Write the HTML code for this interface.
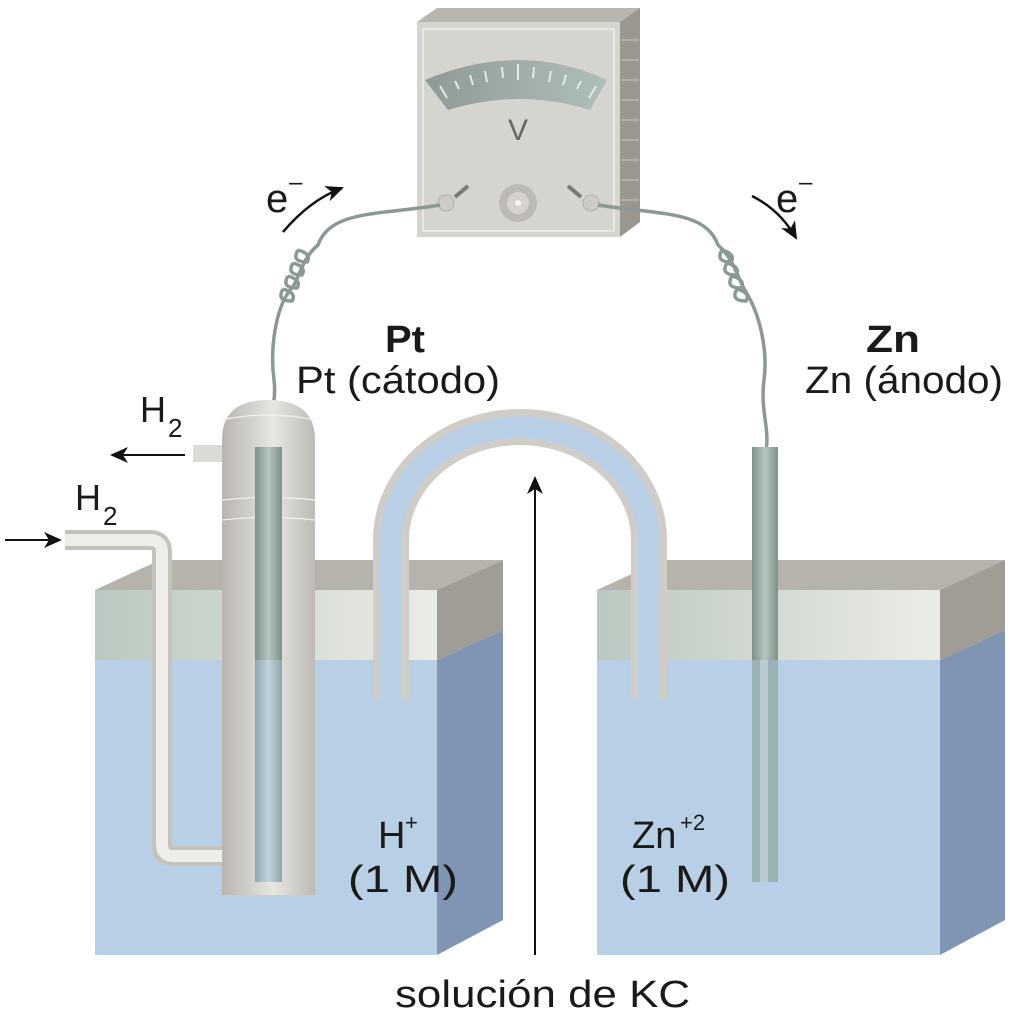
<!DOCTYPE html>
<html><head><meta charset="utf-8"><style>
html,body{margin:0;padding:0;background:#fff;}
svg{display:block;}
text{font-family:"Liberation Sans","DejaVu Sans",sans-serif;fill:#1a1a1a;}
</style></head><body>
<svg width="1024" height="1027" viewBox="0 0 1024 1027" xmlns="http://www.w3.org/2000/svg">
<defs>
<linearGradient id="band" x1="0" x2="1"><stop offset="0" stop-color="#b9c8c0"/><stop offset="1" stop-color="#ecece6"/></linearGradient>
<linearGradient id="holder" x1="0" x2="1"><stop offset="0" stop-color="#b8b5b0"/><stop offset="0.55" stop-color="#e8e6e2"/><stop offset="1" stop-color="#bdbab5"/></linearGradient>
<linearGradient id="rod" x1="0" x2="1"><stop offset="0" stop-color="#7e9188"/><stop offset="0.5" stop-color="#b4c6bd"/><stop offset="1" stop-color="#7e9188"/></linearGradient>
<linearGradient id="rodw" x1="0" x2="1"><stop offset="0" stop-color="#8ea5ad"/><stop offset="0.5" stop-color="#c2d4dc"/><stop offset="1" stop-color="#8ea5ad"/></linearGradient>
<linearGradient id="scale" x1="0" x2="1"><stop offset="0" stop-color="#8f9a94"/><stop offset="1" stop-color="#aec0b8"/></linearGradient>
<marker id="ah2" markerWidth="18" markerHeight="16" refX="16" refY="8" orient="auto" markerUnits="userSpaceOnUse"><path d="M0,0 L18,8 L0,16 L5,8z" fill="#111"/></marker>
</defs>

<!-- Voltmeter -->
<polygon points="417,22 437,8 640,8 620,22" fill="#b9b6b0"/>
<polygon points="620,22 640,8 640,222 620,237" fill="#9a978f"/>
<g stroke="#c8c6c0" stroke-width="1">
<line x1="621" y1="40" x2="639" y2="40"/><line x1="621" y1="60" x2="639" y2="60"/><line x1="621" y1="80" x2="639" y2="80"/><line x1="621" y1="100" x2="639" y2="100"/><line x1="621" y1="120" x2="639" y2="120"/><line x1="621" y1="140" x2="639" y2="140"/><line x1="621" y1="160" x2="639" y2="160"/><line x1="621" y1="180" x2="639" y2="180"/><line x1="621" y1="200" x2="639" y2="200"/>
</g>
<rect x="417" y="22" width="203" height="215" fill="#d6d4cf"/>
<rect x="423" y="29" width="191" height="202" fill="none" stroke="#f0efec" stroke-width="1.5"/>
<path d="M425,80 Q520,40 607,80 L590,110 Q520,88 448,110 Z" fill="url(#scale)"/>
<g stroke="#e4ebe7" stroke-width="2">
<line x1="440" y1="86" x2="447" y2="98"/><line x1="455" y1="81" x2="459" y2="89"/><line x1="470" y1="75" x2="473" y2="85"/><line x1="485" y1="71" x2="487" y2="82"/><line x1="502" y1="67" x2="503" y2="78"/><line x1="518" y1="64" x2="518" y2="80"/><line x1="534" y1="67" x2="533" y2="78"/><line x1="551" y1="71" x2="549" y2="82"/><line x1="566" y1="75" x2="563" y2="85"/><line x1="581" y1="81" x2="577" y2="89"/><line x1="596" y1="86" x2="589" y2="98"/>
</g>
<text x="508" y="140" font-size="30" style="fill:#666">V</text>
<circle cx="518" cy="203" r="19" fill="#bdbab5"/><circle cx="518" cy="203" r="11" fill="#d6d3ce"/><circle cx="518" cy="203" r="3" fill="#f4f4f2"/>
<line x1="455" y1="197" x2="468" y2="186" stroke="#7a7a76" stroke-width="4"/>
<line x1="581" y1="197" x2="568" y2="186" stroke="#7a7a76" stroke-width="4"/>
<circle cx="446" cy="203" r="8" fill="#cfccc7" stroke="#b0ada8"/>
<circle cx="591" cy="203" r="8" fill="#cfccc7" stroke="#b0ada8"/>

<!-- wires -->
<g fill="none" stroke="#8a9a92" stroke-width="3.5">
<path d="M440,205 C380,215 330,210 318,245 C300,260 300,280 290,290 C275,310 270,350 274,380 C278,410 262,430 265,450"/>
<path d="M298,250 q14,4 9,12 q-16,0 -9,-12 M293,263 q14,4 9,12 q-16,0 -9,-12 M288,276 q14,4 9,12 q-16,0 -9,-12 M283,289 q14,4 9,12 q-16,0 -9,-12"/>
<path d="M598,205 C660,215 705,210 718,245 C735,260 738,280 746,292 C760,315 768,350 764,380 C760,410 770,430 766,450"/>
<path d="M722,250 q14,4 9,12 q-16,0 -9,-12 M727,263 q14,4 9,12 q-16,0 -9,-12 M732,276 q14,4 9,12 q-16,0 -9,-12 M737,289 q14,4 9,12 q-16,0 -9,-12"/>
</g>
<path d="M283,232 Q310,200 342,188" fill="none" stroke="#111" stroke-width="2.5" marker-end="url(#ah2)"/>
<path d="M752,196 Q780,210 796,238" fill="none" stroke="#111" stroke-width="2.5" marker-end="url(#ah2)"/>
<text x="266" y="212" font-size="40">e</text><text x="289" y="190" font-size="24">–</text>
<text x="776" y="212" font-size="40">e</text><text x="799" y="190" font-size="24">–</text>

<!-- Labels -->
<text x="385" y="352" font-size="38" font-weight="bold" textLength="40" lengthAdjust="spacingAndGlyphs">Pt</text>
<text x="296" y="393" font-size="38" textLength="204" lengthAdjust="spacingAndGlyphs">Pt (cátodo)</text>
<text x="866" y="352" font-size="38" font-weight="bold" textLength="54" lengthAdjust="spacingAndGlyphs">Zn</text>
<text x="805" y="393" font-size="38" textLength="198" lengthAdjust="spacingAndGlyphs">Zn (ánodo)</text>

<!-- Left tank -->
<polygon points="95,590 160,560 503,560 437,590" fill="#b6b3ab"/>
<polygon points="437,590 503,560 503,630 437,660" fill="#a09d96"/>
<polygon points="437,660 503,630 503,920 437,955" fill="#7f95b3"/>
<rect x="95" y="590" width="342" height="70" fill="url(#band)"/>
<rect x="95" y="660" width="342" height="295" fill="#b9cfe5"/>

<!-- Right tank -->
<polygon points="597,590 662,560 1005,560 940,590" fill="#b6b3ab"/>
<polygon points="940,590 1005,560 1005,630 940,660" fill="#a09d96"/>
<polygon points="940,660 1005,630 1005,920 940,955" fill="#7f95b3"/>
<rect x="597" y="590" width="343" height="70" fill="url(#band)"/>
<rect x="597" y="660" width="343" height="295" fill="#b9cfe5"/>

<!-- H2 inlet tube -->
<path d="M65,540 L150,540 Q162,540 162,552 L162,845 Q162,856 174,856 L222,856" fill="none" stroke="#c4c2bd" stroke-width="20"/>
<path d="M65,540 L150,540 Q162,540 162,552 L162,845 Q162,856 174,856 L222,856" fill="none" stroke="#eeede9" stroke-width="12"/>
<line x1="5" y1="540" x2="60" y2="540" stroke="#111" stroke-width="2" marker-end="url(#ah2)"/>
<text x="75" y="510" font-size="36">H</text><text x="103" y="525" font-size="26">2</text>

<!-- Pt holder -->
<rect x="193" y="445" width="30" height="17" fill="#dcdad5"/>
<path d="M222,895 L222,440 Q222,400 268,400 Q315,400 315,440 L315,895 Z" fill="url(#holder)"/>
<g stroke="#f2f1ee" stroke-width="1.2" fill="none"><path d="M222,420 Q268,410 315,420"/><path d="M222,500 Q268,495 315,500"/><path d="M222,520 Q268,515 315,520"/></g>
<rect x="255" y="447" width="27" height="213" fill="url(#rod)"/>
<rect x="255" y="660" width="27" height="222" fill="url(#rodw)"/>
<line x1="185" y1="455" x2="112" y2="455" stroke="#111" stroke-width="2" marker-end="url(#ah2)"/>
<text x="140" y="422" font-size="36">H</text><text x="168" y="437" font-size="26">2</text>

<!-- Salt bridge -->
<path d="M391,700 L391,540 A129,113 0 0 1 649,540 L649,700" fill="none" stroke="#d0cdc8" stroke-width="36"/>
<path d="M391,700 L391,540 A129,113 0 0 1 649,540 L649,700" fill="none" stroke="#b9cfe5" stroke-width="22"/>

<!-- Zn rod -->
<rect x="752" y="447" width="26" height="213" fill="url(#rod)"/>
<rect x="752" y="660" width="26" height="222" fill="#98aeb0" opacity="0.9"/>
<rect x="760" y="660" width="8" height="222" fill="#b9cbd0"/>

<!-- KC arrow -->
<line x1="535" y1="955" x2="535" y2="478" stroke="#111" stroke-width="2" marker-end="url(#ah2)"/>

<!-- ion labels -->
<text x="378" y="848" font-size="38">H</text><text x="405" y="830" font-size="22">+</text>
<text x="348" y="892" font-size="38" textLength="110" lengthAdjust="spacingAndGlyphs">(1 M)</text>
<text x="632" y="848" font-size="38">Zn</text><text x="680" y="830" font-size="22">+2</text>
<text x="620" y="892" font-size="38" textLength="110" lengthAdjust="spacingAndGlyphs">(1 M)</text>

<text x="395" y="1007" font-size="38" textLength="295" lengthAdjust="spacingAndGlyphs">solución de KC</text>
</svg>
</body></html>
